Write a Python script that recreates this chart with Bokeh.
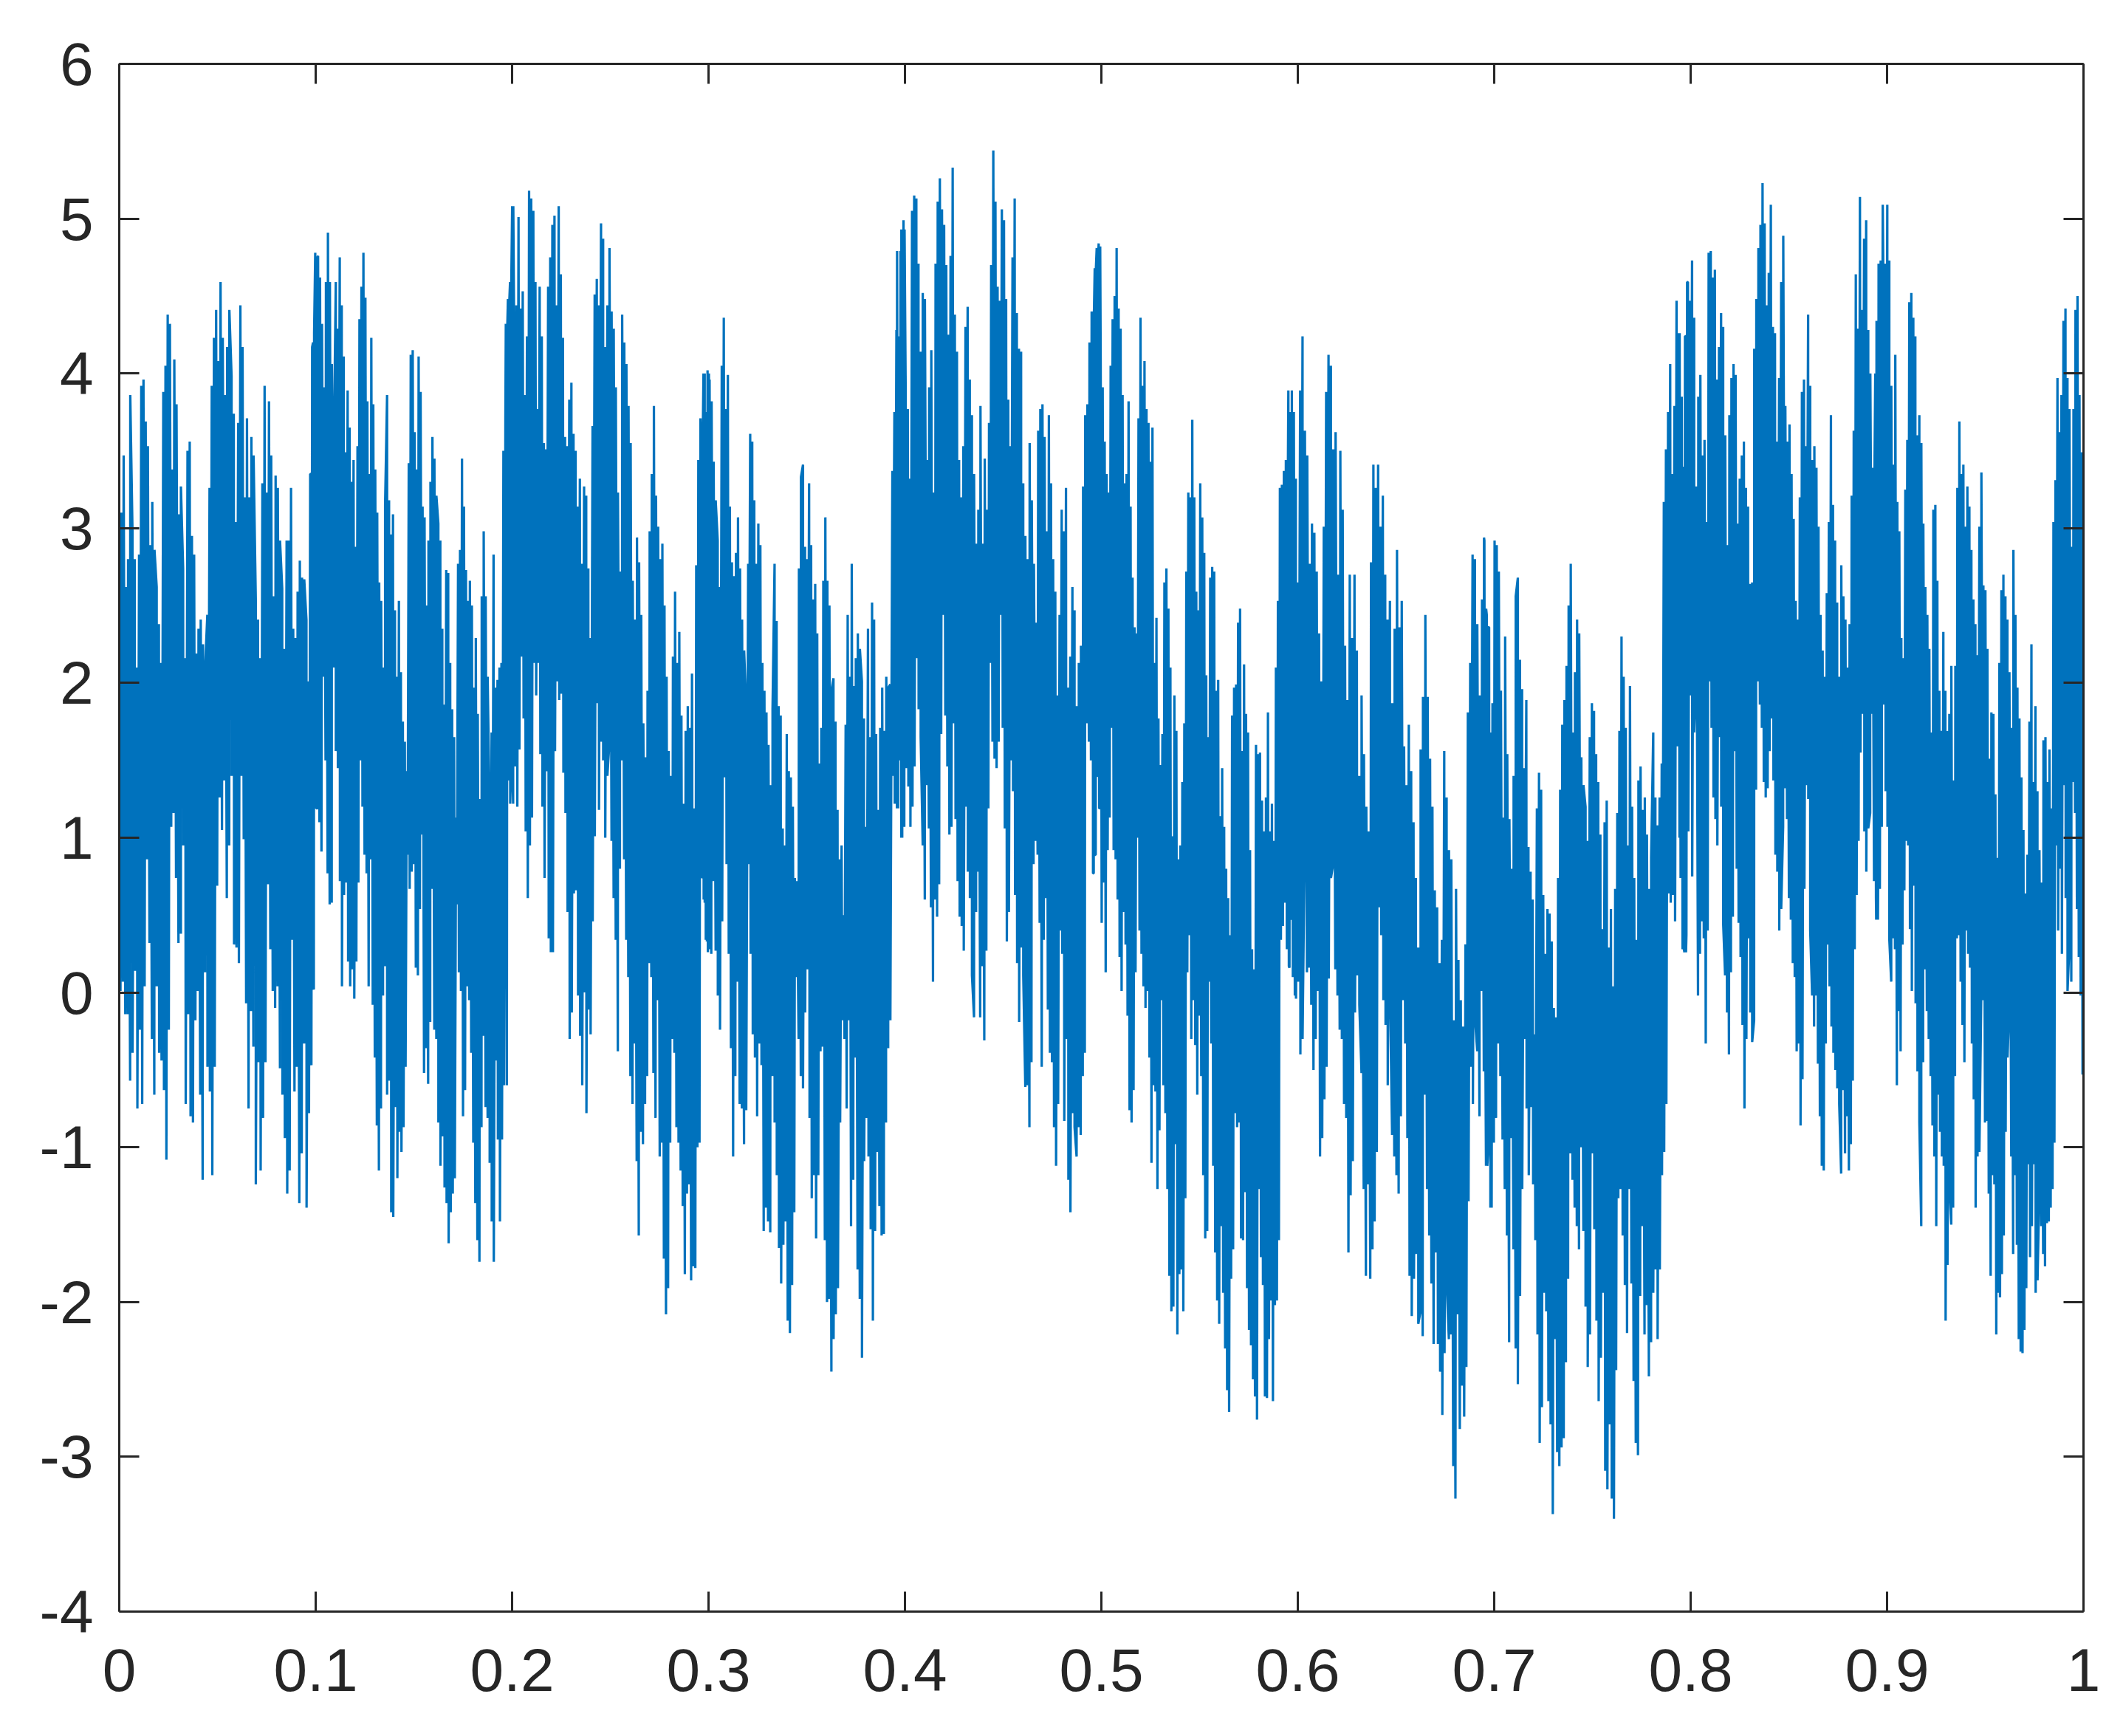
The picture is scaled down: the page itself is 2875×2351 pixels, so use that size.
import numpy as np
from bokeh.plotting import figure
from bokeh.models import Range1d, LinearAxis, FixedTicker, CustomJSTickFormatter
from bokeh.embed import file_html
from bokeh.resources import INLINE

# ---- data: upper (hi) and lower (lo) swings, in 10 stretches of time ----
panel_start = [0.0, 0.0972, 0.1968, 0.2964, 0.3960, 0.4956, 0.5952, 0.6948, 0.7944, 0.8940]
panel_end = [0.1009, 0.2006, 0.3002, 0.3998, 0.4994, 0.5990, 0.6986, 0.7982, 0.8978, 1.0]

hi_1 = [2.32, 3.10, 3.47, 2.62, 2.80, 3.86, 2.98, 2.80, 2.10, 2.83, 3.92, 3.96, 3.69, 3.53, 2.89, 3.17, 2.86, 2.62, 2.38, 2.13,
        3.88, 4.05, 4.38, 4.32, 3.38, 4.09, 3.80, 3.09, 3.27, 2.74, 2.16, 3.50, 3.56, 2.95, 2.83, 2.19, 2.35, 2.41, 2.25, 2.10,
        2.44, 3.26, 3.92, 4.23, 4.41, 4.08, 4.59, 4.23, 3.86, 4.17, 4.41, 3.98, 3.74, 3.04, 3.68, 4.44, 4.17, 3.20, 3.71, 3.20,
        3.59, 3.47, 2.53, 2.41, 2.16, 3.29, 3.92, 3.23, 3.82, 3.47, 2.56, 3.34, 3.26, 2.92, 2.61, 2.22, 2.92, 2.92, 3.26, 2.35,
        2.29, 2.59, 2.79, 2.68, 2.67, 2.41, 2.01, 3.35, 4.20, 4.78, 4.75]
lo_1 = [0.01, 0.07, -0.14, -0.14, -0.57, -0.39, 0.14, -0.75, -0.24, -0.72, 0.04, 0.86, 0.32, -0.30, -0.66, 0.04, -0.39, -0.44,
        -0.63, -1.08, -0.24, 1.07, 1.16, 0.74, 0.32, 0.38, 0.95, -0.72, -0.14, -0.80, -0.84, -0.18, 0.01, -0.66, -1.21, 0.13,
        -0.48, -0.64, -1.18, -0.48, 0.69, 1.26, 1.05, 1.37, 0.61, 0.95, 1.40, 0.31, 0.29, 0.19, 1.40, 0.99, -0.07, -0.75, -0.12,
        -0.35, -1.24, -0.45, -1.15, -0.81, -0.45, 0.70, 0.28, 0.01, -0.10, 0.04, -0.49, -0.66, -0.94, -1.30, -1.15, 0.34, -0.64,
        -0.48, -1.36, -1.04, -0.33, -1.39, -0.78, -0.47, 0.02, 1.19]

hi_2 = [3.35, 4.17, 4.26, 4.41, 4.76, 4.62, 4.32, 3.91, 4.59, 4.91, 4.59, 4.06, 3.53, 4.59, 4.29, 4.75, 4.44, 4.11, 3.49, 3.89,
        3.65, 3.30, 3.44, 2.88, 3.53, 4.35, 4.56, 4.78, 4.49, 3.82, 3.35, 4.23, 3.80, 3.38, 3.10, 2.65, 2.53, 2.10, 3.15, 3.86,
        3.18, 2.96, 3.09, 2.47, 2.04, 2.53, 2.07, 1.75, 1.62, 1.43, 3.42, 4.12, 4.15, 3.62, 3.38, 4.11, 3.88, 3.14, 3.07, 2.50,
        2.92, 3.30, 3.59, 3.45, 3.21, 3.03, 2.92, 2.35, 1.86, 2.73, 2.71, 2.13, 1.83, 1.65, 1.13, 2.77, 2.86, 3.45, 3.14, 2.73,
        2.53, 2.66, 2.50, 1.97, 2.29, 1.80, 1.25, 2.56, 2.98, 2.56, 2.04, 1.16, 1.68, 2.83, 1.97, 2.02, 2.10, 2.13, 3.50, 3.71,
        4.32, 4.47, 4.59, 5.08]
lo_2 = [-0.46, 0.03, 1.40, 1.19, 1.10, 0.91, 2.04, 1.50, 0.77, 0.57, 0.58, 2.10, 1.56, 1.45, 0.72, 0.04, 0.63, 0.71, 0.20, 0.04,
        0.15, -0.04, 0.20, 0.71, 1.50, 1.20, 0.89, 0.77, 0.04, 0.86, -0.08, -0.42, -0.86, -1.15, -0.75, -0.02, 0.17, -0.66, -0.57,
        -1.42, -1.45, -0.74, -1.20, -0.90, -1.03, -0.87, -0.48, 0.89, 0.67, 0.78, 0.83, 0.16, 0.11, 0.54, 1.02, -0.52, -0.36,
        -0.59, -0.19, 0.67, -0.24, -0.30, -0.84, -1.12, -0.93, -1.26, -1.36, -1.62, -1.42, -1.30, -1.20, 0.57, 0.13, 0.01, -0.80,
        -0.63, 0.04, -0.05, -0.39, -0.97, -1.36, -1.60, -1.74, -0.87, -0.28, -0.74, -0.81, -1.10, -1.48, -1.74, -0.44, -0.95,
        -1.48, -0.95, -0.60, 1.37, 1.50, 1.22, 1.46]

hi_3 = [4.32, 4.48, 4.59, 5.08, 4.14, 4.44, 5.01, 4.42, 4.53, 3.86, 4.24, 5.18, 5.13, 5.05, 4.59, 3.77, 4.56, 4.24, 3.55, 3.51,
        4.56, 4.75, 4.96, 5.02, 4.44, 5.08, 4.64, 4.23, 3.59, 3.53, 3.83, 3.94, 3.61, 3.50, 3.14, 3.32, 2.77, 3.27, 3.21, 2.74,
        2.29, 3.66, 4.51, 4.61, 4.44, 4.97, 4.87, 4.17, 4.44, 4.81, 4.40, 4.29, 3.91, 3.23, 2.72, 4.38, 4.20, 4.06, 3.79, 3.55,
        2.66, 2.41, 2.94, 2.78, 2.44, 1.74, 1.52, 1.95, 2.98, 3.35, 3.79, 3.21, 3.01, 2.80, 2.90, 2.50, 2.04, 1.56, 1.40, 2.17,
        2.59, 2.13, 2.33, 1.79, 1.22, 1.69, 1.85, 1.71, 2.06, 1.19, 2.76, 3.44, 3.71, 3.47, 4.00, 3.75, 4.00]
lo_3 = [-0.60, 1.37, 1.46, 1.22, 1.46, 1.20, 1.57, 2.17, 1.77, 1.04, 0.61, 0.95, 1.13, 2.13, 1.92, 2.13, 1.54, 1.20, 0.74, 1.43,
        0.35, 0.26, 0.26, 1.56, 2.01, 1.89, 1.93, 1.42, 1.16, 0.52, -0.30, -0.13, 0.64, 0.66, -0.02, -0.28, -0.60, 0.00, -0.78,
        -0.11, -0.27, 0.46, 1.01, 1.87, 1.18, 1.62, 1.50, 1.00, 1.40, 1.62, 0.98, 0.61, 0.34, -0.38, 0.80, 1.50, 0.86, 0.34, 0.10,
        -0.54, -0.72, -0.33, -1.09, -1.57, -0.90, -0.98, -0.72, -0.54, 0.19, 0.10, -0.52, -0.81, -0.05, -1.06, -0.97, -1.72,
        -2.08, -1.91, -0.97, -0.30, -0.39, -0.87, -0.97, -1.15, -1.38, -1.82, -1.30, -1.24, -1.86, -1.77, -1.78, -1.00, -0.97,
        0.74, 0.60, 0.34, 0.26]

hi_4 = [3.47, 4.00, 3.75, 4.02, 3.96, 3.82, 3.43, 3.18, 2.92, 2.62, 4.05, 4.36, 3.77, 3.99, 3.14, 2.78, 2.69, 2.84, 3.07, 2.74,
        2.41, 2.21, 1.86, 2.77, 3.61, 3.56, 3.18, 2.77, 3.03, 2.89, 2.13, 1.95, 1.81, 1.60, 1.34, 1.83, 2.77, 2.40, 1.85, 1.79,
        1.06, 0.95, 1.67, 1.43, 1.39, 1.20, 0.74, 0.72, 2.74, 3.33, 3.41, 2.88, 2.80, 3.29, 2.89, 2.54, 2.64, 2.32, 1.48, 1.71,
        2.66, 3.07, 2.66, 2.50, 1.95, 2.03, 1.75, 1.18, 0.86, 0.95, 0.50, 1.73, 2.44, 2.04, 2.77, 1.98, 2.16, 2.32, 2.22, 2.01,
        1.77, 1.07, 2.35, 1.65, 2.52, 2.41, 1.67, 1.18, 1.71, 1.97, 1.69, 2.04, 1.97, 1.99, 3.37, 3.75, 4.28, 4.20, 4.79, 4.23,
        4.93]
lo_4 = [0.75, 0.58, 0.33, 0.28, 0.25, 0.72, 0.27, -0.02, -0.24, 0.46, 1.39, 0.83, 0.25, -0.36, -1.06, -0.54, 0.07, -0.72, -0.75,
        -0.98, -0.76, 0.83, 0.25, -0.27, -0.42, -0.80, -0.33, -0.47, -1.54, -1.39, -1.48, -1.55, -0.54, -0.84, -1.18, -1.65,
        -1.88, -1.63, -1.48, -2.12, -2.20, -1.89, -1.42, 0.10, -0.30, -0.54, -0.62, -0.13, 0.15, -0.81, -1.33, -1.18, -1.59,
        -1.18, -0.38, -0.35, -1.60, -2.00, -1.98, -2.45, -2.24, -2.08, -1.91, -0.84, -0.18, -0.30, -0.75, -0.18, -1.51, -1.21,
        -0.42, -1.79, -1.98, -2.36, -1.09, -0.81, -1.06, -1.53, -2.12, -1.54, -1.03, -1.38, -1.57, -1.56, -0.84, -0.36, -0.18,
        1.40, 1.22, 1.19, 1.50, 1.00, 1.10]

hi_5 = [4.79, 4.24, 4.93, 4.99, 3.91, 3.77, 3.32, 5.05, 5.15, 5.13, 4.71, 4.14, 4.52, 4.48, 3.44, 3.91, 4.15, 3.23, 4.71, 5.11,
        5.26, 5.06, 4.96, 4.70, 4.25, 4.76, 5.33, 4.38, 4.14, 3.44, 3.20, 3.53, 4.30, 4.43, 3.96, 3.73, 3.35, 2.90, 3.12, 3.79,
        2.90, 3.45, 3.12, 3.68, 4.70, 5.44, 5.11, 4.56, 4.47, 5.06, 4.99, 4.48, 3.83, 3.53, 4.75, 5.13, 4.39, 4.16, 4.14, 3.29,
        2.95, 2.80, 3.55, 3.18, 2.77, 2.39, 3.63, 3.77, 3.80, 3.59, 2.98, 3.73, 3.29, 2.80, 2.59, 1.92, 2.44, 3.12, 2.98, 3.26,
        1.97, 2.17, 2.62, 2.47, 1.85, 2.13, 2.24, 3.27, 3.73, 3.80, 4.20, 4.40, 4.32, 4.68, 4.75, 4.82]
lo_5 = [1.19, 1.50, 1.00, 1.07, 1.45, 1.33, 1.07, 1.20, 1.46, 2.16, 1.83, 1.65, 0.95, 0.60, 1.34, 1.06, 0.55, 0.07, 0.60, 0.49,
        0.70, 1.67, 2.44, 1.79, 1.46, 1.02, 1.07, 1.74, 1.12, 0.72, 0.49, 0.43, 0.27, 1.20, 0.78, 0.61, 0.11, -0.16, 0.52, 0.78,
        -0.16, 0.17, -0.31, 0.27, 1.19, 2.13, 1.62, 1.51, 1.45, 1.62, 2.44, 1.71, 1.06, 0.33, 0.52, 1.50, 1.30, 0.63, 0.19,
        -0.19, 0.29, 0.11, -0.61, -0.60, -0.87, -0.45, 0.83, 0.98, 0.89, 0.45, -0.48, 0.34, 0.61, -0.11, -0.39, -0.45, -0.87,
        -1.12, -0.72, 0.40, 0.25, -0.83, -0.30, -1.21, -1.42, -0.78, -0.87, -1.06, -0.87, -0.92, -0.54, -0.39, 1.74, 1.62, 1.50,
        0.77, 0.89, 1.40, 1.19]

hi_6 = [4.32, 4.68, 4.81, 4.84, 4.05, 3.91, 3.56, 3.35, 3.23, 4.05, 4.35, 4.50, 4.81, 4.42, 4.29, 3.86, 3.29, 3.35, 3.82, 3.14,
        2.68, 2.36, 2.32, 3.71, 4.36, 3.92, 4.08, 3.77, 3.68, 3.43, 3.65, 2.13, 2.42, 1.77, 1.47, 1.67, 2.65, 2.74, 2.48, 2.10,
        1.01, 1.92, 1.69, 0.86, 0.95, 1.36, 1.74, 2.72, 3.23, 3.20, 3.70, 3.20, 2.59, 2.47, 3.29, 3.07, 2.84, 2.05, 1.65, 2.68,
        2.75, 2.72, 1.95, 2.02, 1.14, 1.45, 1.07, 0.80, 0.61, 0.37, 1.79, 1.97, 1.99, 2.39, 2.48, 1.56, 2.12, 1.80, 1.68, 0.92,
        0.28, 0.15, 1.60, 1.54, 1.55, 1.24, 1.04, 1.26, 1.81, 1.04, 1.22, 0.98, 2.10, 2.53, 3.26, 3.28, 3.37, 3.44, 3.32, 2.68,
        3.89, 3.75, 3.32]
lo_6 = [0.77, 0.89, 1.40, 1.19, 0.45, 0.71, 0.13, 0.92, 1.13, 1.71, 0.92, 0.86, 0.60, 0.23, 0.01, 0.52, 0.31, -0.15, -0.76,
        -0.84, -0.63, 0.13, 1.00, 0.40, 0.25, 0.04, -0.10, 0.01, -0.42, -1.10, -0.60, -0.64, -1.27, -0.89, -0.05, -0.60, -0.78,
        -1.27, -1.83, -2.06, -2.03, -0.98, -2.21, -1.82, -1.79, -2.06, -1.33, 0.13, 0.37, -0.30, -0.05, -0.34, -0.66, -0.15,
        -0.54, -1.18, -1.59, -1.54, 0.07, -0.33, -1.12, -1.68, -1.99, -2.14, -1.51, -1.94, -2.30, -2.57, -2.71, -1.85, -1.66,
        -0.78, -0.87, -0.84, -1.59, -1.60, -1.29, -1.91, -2.18, -2.28, -2.50, -2.61, -2.76, -1.27, -1.71, -1.89, -2.61, -2.62,
        -2.24, -1.99, -2.64, -2.02, -1.99, -1.60, 0.34, 0.43, 0.58, 0.28, 0.17, 0.55, 0.10, -0.02]

hi_7 = [3.89, 3.75, 3.32, 2.74, 2.65, 3.89, 4.24, 3.63, 3.47, 2.77, 3.03, 2.97, 2.72, 2.32, 2.01, 3.01, 3.88, 4.12, 4.05, 3.51,
        3.62, 2.70, 3.50, 3.12, 2.24, 1.89, 2.70, 2.29, 2.70, 2.21, 1.40, 1.92, 1.54, 1.20, 1.04, 2.78, 3.41, 3.26, 3.41, 3.01,
        3.21, 2.70, 2.41, 2.53, 1.87, 2.35, 2.86, 2.36, 2.53, 1.59, 1.34, 1.73, 1.43, 1.10, 0.74, 0.29, 1.57, 1.91, 2.44, 1.91,
        1.51, 1.20, 0.66, 0.55, 0.19, 0.34, 1.56, 1.26, 0.92, 0.86, -0.18, 0.67, 0.21, -0.05, -0.22, 0.31, 1.81, 2.13, 2.83,
        2.80, 2.38, 1.92, 2.54, 2.92, 2.44, 2.36, 1.68]
lo_7 = [0.16, 0.47, 0.10, -0.04, 0.07, -0.40, -0.30, 1.04, 0.13, 0.16, -0.08, -0.50, -0.30, 0.01, -1.06, -0.94, -0.69, -0.48,
        0.09, 0.74, 0.83, 0.15, -0.02, -0.24, -0.30, -0.72, -0.81, -1.68, -1.31, -1.09, -0.13, 0.11, -0.08, -0.52, -1.27, -1.83,
        -1.24, -1.85, -1.66, -1.48, -1.03, 0.55, 0.37, -0.05, -0.21, -0.60, 0.05, -0.92, -1.06, -1.18, -1.30, -0.80, -0.05,
        -0.33, -0.94, -1.83, -2.09, -1.85, -1.69, -2.14, -2.06, -2.22, -0.66, -1.27, -1.57, -1.88, -2.27, -1.68, -2.27, -2.45,
        -2.73, -2.33, -1.89, -2.24, -2.21, -3.06, -3.27, -2.08, -2.82, -2.54, -2.74, -2.42, -1.35, -0.48, -0.72, -0.18, -0.38,
        -0.80, 0.01, -0.51, -1.12, -1.03, -1.39]

hi_8 = [2.94, 2.48, 2.36, 1.68, 1.87, 2.92, 2.89, 2.72, 1.95, 1.13, 2.30, 1.54, 1.12, 0.80, 1.40, 2.56, 2.68, 2.15, 1.96, 1.45,
        1.89, 0.94, 0.78, 0.60, -0.27, 1.19, 1.42, 1.31, 0.63, 0.25, 0.54, 0.51, 0.33, -0.10, -0.16, 0.74, 1.31, 1.73, 1.89,
        2.11, 2.50, 2.77, 1.68, 2.07, 2.41, 2.32, 1.52, 1.34, 1.20, 0.98, 1.65, 1.87, 1.82, 1.54, 1.36, 1.02, 0.41, 1.10, 1.24,
        0.29, 0.54, 0.04, 0.67, 1.16, 1.69, 2.30, 2.04, 1.71, 0.95, 1.98, 1.20, 0.74, 0.34, 1.37, 1.46, 1.18, 1.26, 1.02, 0.67,
        0.87, 1.68, 1.26, 1.08, 1.26, 1.48, 3.17, 3.51, 3.75, 4.06, 3.35, 3.79, 4.47, 4.26, 3.85, 3.39, 4.24, 4.59]
lo_8 = [-0.02, -1.12, -1.00, -1.39, -0.97, -0.81, -0.33, -0.54, -0.95, -1.27, -1.57, -2.26, -0.94, -1.66, -2.30, -2.53, -1.96,
        -1.27, -0.30, -0.75, -1.18, -0.74, -1.24, -1.60, -2.21, -2.91, -2.68, -1.94, -2.06, -2.64, -2.79, -3.37, -2.24, -2.97,
        -3.06, -2.94, -2.88, -2.39, -1.85, -1.04, -1.21, -1.39, -1.51, -1.66, -1.00, -1.54, -2.03, -2.42, -2.21, -1.04, -1.53,
        -2.12, -2.64, -2.36, -1.94, -3.09, -3.21, -2.79, -3.27, -3.40, -2.44, -1.33, -1.27, -1.57, -1.89, -2.20, -1.27, -1.88,
        -2.51, -2.91, -2.99, -1.96, -1.51, -2.21, -2.02, -2.48, -2.26, -1.94, -1.79, -2.24, -1.79, -1.18, -1.03, -0.72, 0.64,
        0.58, 0.63, 0.46, 1.59, 1.00, 0.74, 0.28, 0.26]

hi_9 = [4.26, 3.85, 3.39, 4.24, 4.59, 4.47, 4.73, 4.36, 3.27, 3.85, 3.99, 3.47, 3.57, 3.04, 4.78, 4.79, 4.62, 4.67, 3.96, 4.17,
        4.39, 4.30, 3.60, 2.89, 3.73, 3.97, 4.06, 3.99, 3.03, 3.32, 3.47, 3.56, 3.26, 3.14, 2.64, 2.65, 4.16, 4.48, 4.81, 4.96,
        5.23, 4.97, 4.44, 4.65, 5.09, 4.30, 4.26, 3.56, 3.97, 4.59, 4.89, 3.79, 3.56, 3.67, 3.35, 3.06, 2.53, 2.41, 3.20, 3.88,
        3.96, 3.53, 4.38, 3.92, 3.44, 3.53, 3.39, 3.01, 2.44, 2.21, 2.04, 2.58, 3.04, 3.73, 3.15, 2.92, 2.52, 2.04, 2.76, 2.56,
        2.41, 2.10, 2.38, 3.21, 3.63, 4.64, 4.29, 5.14, 4.41, 4.87, 4.99, 4.28, 4.00, 3.39, 3.35, 4.34, 4.71, 4.73, 5.09]
lo_9 = [0.74, 0.28, 0.26, 0.37, 1.04, 1.92, 0.75, 1.68, 2.01, -0.02, 0.25, 0.46, 0.35, -0.33, 0.40, 2.01, 1.71, 1.26, 1.12,
        0.95, 1.65, 1.20, 0.45, 0.11, -0.13, -0.40, 0.13, 0.49, 1.56, 0.80, 0.45, 0.23, -0.21, -0.75, -0.30, 0.35, -0.13, -0.32,
        -0.18, 1.31, 2.01, 1.86, 1.71, 1.36, 1.26, 1.32, 1.56, 1.77, 1.37, 0.89, 0.78, 0.40, 0.54, 1.07, 1.32, 1.12, 0.61, 0.47,
        0.19, 0.10, -0.38, -0.33, -0.86, -0.56, 0.67, 1.34, 1.25, 0.40, -0.02, -0.22, -0.02, -0.46, -0.80, -1.12, -1.15, -0.33,
        0.31, 0.04, -0.22, -0.39, -0.50, -0.62, -0.72, -1.17, -0.63, -1.04, -0.80, -1.15, -0.98, -0.57, 0.28, 0.63, 0.98, 1.55,
        1.80, 1.04, 0.78, 1.06, 1.16, 1.80, 0.72, 0.61, 0.47, 0.67, 1.07]

hi_10 = [4.00, 3.39, 3.35, 4.32, 4.64, 4.71, 5.09, 4.73, 3.92, 3.41, 4.12, 3.17, 2.98, 2.29, 2.16, 3.25, 3.57, 4.46, 4.52, 4.36,
         4.24, 3.60, 3.73, 3.55, 3.03, 2.62, 2.44, 2.22, 1.68, 3.12, 3.15, 2.66, 1.95, 1.69, 2.33, 1.95, 1.69, 1.80, 2.11, 1.37,
         2.11, 3.26, 3.69, 3.35, 3.41, 3.01, 3.27, 3.14, 2.86, 2.54, 2.38, 2.18, 3.01, 3.36, 2.63, 2.60, 2.22, 1.51, 1.81, 1.80,
         1.28, 0.87, 2.13, 2.60, 2.70, 2.56, 2.41, 2.07, 1.71, 2.86, 2.44, 1.97, 1.77, 1.39, 1.05, 0.64, 0.89, 1.75, 2.25, 1.36,
         1.85, 1.30, 0.92, 0.71, 1.63, 1.65, 1.36, 1.57, 1.19, 3.04, 3.31, 3.97, 3.62, 3.86, 4.34, 4.42, 3.97, 3.77, 2.88, 3.77,
         4.41, 4.50, 3.86, 3.49, 2.62]
lo_10 = [0.47, 0.67, 1.08, 2.32, 1.86, 1.30, 1.07, 0.34, 0.07, 0.35, 0.28, -0.60, -0.12, -0.38, 0.31, 0.66, 0.98, 0.95, 0.41,
         0.01, 0.69, -0.07, -0.51, -0.84, -1.51, -0.45, 0.15, -0.12, -0.30, -0.54, -0.86, -1.06, -1.51, -0.66, -0.90, -1.06,
         -1.12, -2.12, -1.76, -1.27, -1.50, -1.39, -0.54, 0.35, 0.37, 0.07, -0.21, -0.45, 0.40, 0.25, 0.16, -0.33, -0.69, -1.39,
         -1.06, -1.03, -0.02, -0.05, -0.84, -0.83, -1.30, -1.83, -1.18, -1.24, -2.21, -1.94, -1.97, -1.82, -1.57, -0.90, -0.42,
         -0.08, -1.06, -1.69, -1.18, -1.63, -2.24, -2.32, -2.33, -2.18, -1.91, -1.11, -1.71, -1.51, -1.11, -1.94, -1.86, -1.24,
         -1.51, -1.69, -1.77, -1.49, -1.48, -1.39, -1.27, -0.97, 0.95, 0.40, 0.80, 0.25, 1.34, 0.61, 0.01, 0.31, 0.07, 1.36,
         1.16, 0.54, 0.23, -0.02, -0.53]

x_ticks = [0, 0.1, 0.2, 0.3, 0.4, 0.5, 0.6, 0.7, 0.8, 0.9, 1]
x_labels = ["0", "0.1", "0.2", "0.3", "0.4", "0.5", "0.6", "0.7", "0.8", "0.9", "1"]
y_ticks = [-4, -3, -2, -1, 0, 1, 2, 3, 4, 5, 6]
y_labels = ["-4", "-3", "-2", "-1", "0", "1", "2", "3", "4", "5", "6"]

# ---- assemble one time series (samples evenly spread through each stretch) ----
highs = [hi_1, hi_2, hi_3, hi_4, hi_5, hi_6, hi_7, hi_8, hi_9, hi_10]
lows = [lo_1, lo_2, lo_3, lo_4, lo_5, lo_6, lo_7, lo_8, lo_9, lo_10]
ts, ys = [], []
for k in range(10):
    s, e = panel_start[k], panel_end[k]
    h, l = np.array(highs[k]), np.array(lows[k])
    th = np.linspace(s, e, len(h))
    tl = s + (np.arange(len(l)) + 0.5) * (e - s) / len(l)
    ts.append(th); ts.append(tl)
    ys.append(h); ys.append(l)
t = np.concatenate(ts)
y = np.concatenate(ys)
order = np.argsort(t, kind="stable")
t, y = t[order], y[order]

INK = "#262626"
FONT = "Liberation Sans"

p = figure(width=2859, height=2335, x_range=Range1d(0, 1), y_range=Range1d(-4, 6),
           output_backend="svg", toolbar_location=None,
           min_border_left=161, min_border_right=38, min_border_top=86, min_border_bottom=153)
p.background_fill_color = "white"
p.border_fill_color = "white"
p.outline_line_color = None
p.xgrid.visible = False
p.ygrid.visible = False

p.line(t, y, line_color="#0072BD", line_width=3.2)

LOOKUP = "const i = tv.findIndex(v => Math.abs(v - tick) < 1e-9); return i >= 0 ? tl[i] : '';"
xfmt = CustomJSTickFormatter(args=dict(tv=x_ticks, tl=x_labels), code=LOOKUP)
yfmt = CustomJSTickFormatter(args=dict(tv=y_ticks, tl=y_labels), code=LOOKUP)
blank = CustomJSTickFormatter(code="return '';")


def style(ax):
    ax.axis_line_color = INK
    ax.axis_line_width = 3
    ax.major_tick_line_color = INK
    ax.major_tick_line_width = 3
    ax.major_tick_in = 27
    ax.major_tick_out = 0
    ax.minor_tick_line_color = None
    ax.major_label_text_font = FONT
    ax.major_label_text_font_size = "82px"
    ax.major_label_text_color = INK


xa = p.xaxis[0]
xa.ticker = FixedTicker(ticks=x_ticks)
xa.formatter = xfmt
style(xa)
xa.major_label_standoff = 50

ya = p.yaxis[0]
ya.ticker = FixedTicker(ticks=y_ticks)
ya.formatter = yfmt
style(ya)
ya.major_label_standoff = 35

top = LinearAxis(ticker=FixedTicker(ticks=x_ticks), formatter=blank)
style(top)
top.major_label_text_font_size = "1px"
top.major_label_standoff = 0
p.add_layout(top, "above")

right = LinearAxis(ticker=FixedTicker(ticks=y_ticks), formatter=blank)
style(right)
right.major_label_text_font_size = "1px"
right.major_label_standoff = 0
p.add_layout(right, "right")

open("out.html", "w").write(file_html(p, INLINE))
